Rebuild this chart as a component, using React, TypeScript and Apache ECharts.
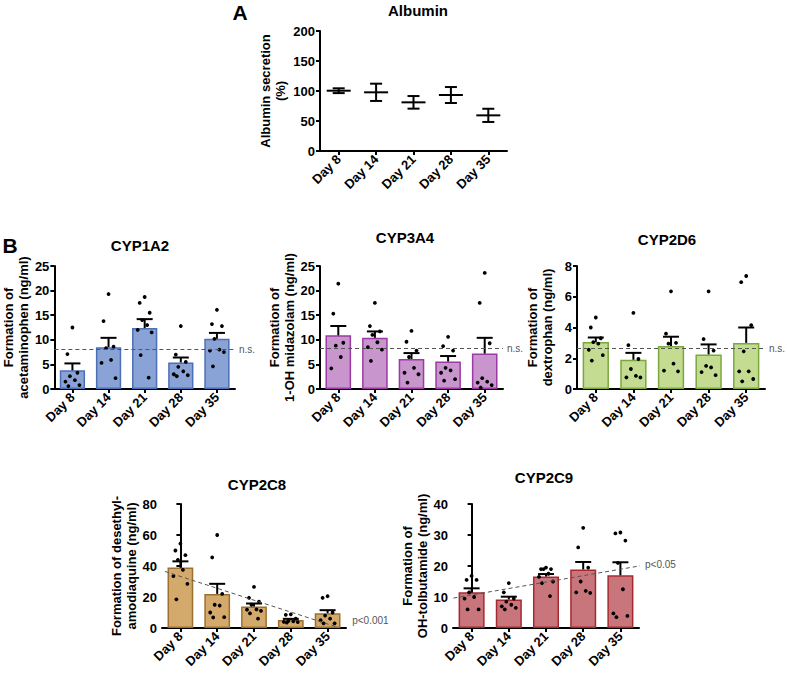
import React, { useEffect, useRef } from "react";
import * as echarts from "echarts";

const FONT = '"Liberation Sans", Arial, sans-serif';

const days = ["Day 8", "Day 14", "Day 21", "Day 28", "Day 35"];

// Panel A
const albuminMean = [100.5, 97.8, 81.1, 93.3, 59.4];
const albuminErr = [4, 14.4, 10.5, 13.3, 11];

// CYP1A2
const cyp1a2Mean = [3.8, 8.5, 12.4, 5.4, 10.2];
const cyp1a2Sem = [1.4, 1.9, 1.8, 1.0, 1.2];
const cyp1a2Pts = [
  [12.5, 7.1, 3.3, 2.6, 1.8, 1.5, 0.8, 0.6],
  [19.3, 13.8, 8.6, 8.3, 5.9, 5.3, 2.2],
  [18.7, 17.5, 15.5, 14.0, 13.0, 12.0, 11.5, 6.9, 2.3],
  [12.8, 7.0, 5.5, 4.5, 3.6, 3.0, 2.8, 2.6],
  [16.1, 13.2, 12.8, 10.2, 8.0, 7.8, 7.5, 4.6],
];
const cyp1a2Ref = 8.0;

// CYP3A4
const cyp3a4Mean = [10.9, 10.4, 6.1, 5.6, 7.2];
const cyp3a4Sem = [1.9, 1.3, 1.2, 1.1, 3.2];
const cyp3a4Pts = [
  [21.4, 15.3, 9.4, 8.8, 6.5, 4.2],
  [17.5, 12.8, 11.7, 11.0, 9.5, 8.5, 8.0, 5.7],
  [11.8, 9.6, 7.8, 6.5, 4.3, 3.3, 3.0, 1.3],
  [10.6, 8.7, 7.8, 4.3, 3.8, 3.3, 2.0, 1.7],
  [23.6, 17.5, 9.3, 2.2, 1.5, 1.3, 0.8, 0.3],
];
const cyp3a4Ref = 8.2;

// CYP2D6
const cyp2d6Mean = [3.05, 1.9, 2.8, 2.25, 3.0];
const cyp2d6Sem = [0.3, 0.45, 0.6, 0.65, 1.0];
const cyp2d6Pts = [
  [4.65, 4.0, 3.3, 3.05, 2.95, 2.55, 2.2, 1.85],
  [4.95, 2.85, 1.95, 1.3, 0.85, 0.75, 0.75],
  [6.35, 3.6, 3.0, 2.95, 1.65, 1.2, 1.15],
  [6.35, 3.25, 2.5, 1.5, 1.4, 1.1, 0.9],
  [7.35, 6.95, 4.15, 2.45, 1.15, 1.15, 0.65, 0.5],
];
const cyp2d6Ref = 2.65;

// CYP2C8
const cyp2c8Mean = [39, 22, 13.8, 5.2, 9.5];
const cyp2c8Sem = [4, 6.5, 2.0, 0.7, 2.0];
const cyp2c8Pts = [
  [54.5, 50, 47, 44, 37.5, 33.5, 28.5, 18.5],
  [60, 45.5, 22, 15, 14.5, 10, 7, 6.8],
  [26.5, 19.5, 17, 15, 12, 11.8, 11, 9.5, 6],
  [8.8, 8.5, 6, 4.5, 4.3, 4, 3.8, 3.5],
  [20.5, 19.5, 10, 8, 6, 5, 3, 3],
];
const cyp2c8Trend = [[-0.42, 36.5], [4.26, 0.6]];

// CYP2C9
const cyp2c9Mean = [11.5, 9.2, 16.6, 18.9, 17.0];
const cyp2c9Sem = [1.3, 0.9, 0.8, 2.4, 4.2];
const cyp2c9Pts = [
  [16.8, 15.5, 15.5, 11.5, 10, 9.5, 6, 6],
  [14.5, 11.5, 9.5, 8.5, 7.5, 7, 6.5, 6],
  [19.5, 19, 19, 19, 17.5, 16.5, 15, 14.5, 10.3],
  [32.3, 26, 19.5, 15, 12, 11.5, 11.3],
  [30.8, 30.5, 28.2, 21.0, 12.5, 4.7, 3.9, 3.5],
];
const cyp2c9Trend = [[-0.49, 9.65], [4.53, 20.05]];

const panels = [
  {
    title: "CYP1A2", yName: "Formation of\nacetaminophen (ng/ml)",
    mean: cyp1a2Mean, sem: cyp1a2Sem, pts: cyp1a2Pts, max: 25, interval: 5,
    fill: "#8aa3d6", border: "#4d6fb5", ref: cyp1a2Ref,
    grid: { left: 50, top: 266, width: 185, height: 123 }, tpos: [140, 245],
  },
  {
    title: "CYP3A4", yName: "Formation of\n1-OH midazolam (ng/ml)",
    mean: cyp3a4Mean, sem: cyp3a4Sem, pts: cyp3a4Pts, max: 25, interval: 5,
    fill: "#c895cc", border: "#9b3aa4", ref: cyp3a4Ref,
    grid: { left: 320, top: 266, width: 183, height: 123 }, tpos: [405, 237],
  },
  {
    title: "CYP2D6", yName: "Formation of\ndextrophan (ng/ml)",
    mean: cyp2d6Mean, sem: cyp2d6Sem, pts: cyp2d6Pts, max: 8, interval: 2,
    fill: "#c3dc92", border: "#7aa83c", ref: cyp2d6Ref,
    grid: { left: 577, top: 266, width: 188, height: 123 }, tpos: [667, 239],
  },
  {
    title: "CYP2C8", yName: "Formation of desethyl-\namodiaquine (ng/ml)",
    mean: cyp2c8Mean, sem: cyp2c8Sem, pts: cyp2c8Pts, max: 80, interval: 20,
    fill: "#d4aa6c", border: "#9c7030", trend: cyp2c8Trend, pLabel: "p<0.001", pOffset: [10, -7],
    grid: { left: 162, top: 504, width: 184, height: 124 }, tpos: [257, 484],
  },
  {
    title: "CYP2C9", yName: "Formation of\nOH-tolbutamide (ng/ml)",
    mean: cyp2c9Mean, sem: cyp2c9Sem, pts: cyp2c9Pts, max: 40, interval: 10,
    fill: "#c8767b", border: "#a52a30", trend: cyp2c9Trend, pLabel: "p<0.05", pOffset: [0, -1],
    grid: { left: 453, top: 504, width: 186, height: 124 }, tpos: [544, 477],
  },
];

const jit = [0, -5, 5, -2.5, 2.5, -7, 7, -4, 4];

function buildOption() {
  const grids: any[] = [{ left: 320, top: 31, width: 187, height: 120 }];
  const xAxes: any[] = [];
  const yAxes: any[] = [];
  const series: any[] = [];
  const graphics: any[] = [];

  const catAxis = (gridIndex: number) => ({
    type: "category", gridIndex, data: days,
    axisLine: { show: true, lineStyle: { color: "#000", width: 2 } },
    axisTick: { show: true, alignWithLabel: true, length: 4, lineStyle: { color: "#000", width: 2 } },
    axisLabel: { rotate: 45, color: "#000", fontWeight: "bold", fontSize: 13, fontFamily: FONT, margin: 6 },
  });
  const valAxis = (gridIndex: number, max: number, interval: number, name: string, gap: number) => ({
    type: "value", gridIndex, min: 0, max, interval,
    name, nameLocation: "middle", nameRotate: 90, nameGap: gap,
    nameTextStyle: { color: "#000", fontWeight: "bold", fontSize: 13, fontFamily: FONT, lineHeight: 15 },
    axisLine: { show: true, lineStyle: { color: "#000", width: 2 } },
    axisTick: { show: true, length: 4, lineStyle: { color: "#000", width: 2 } },
    axisLabel: { color: "#000", fontWeight: "bold", fontSize: 13, fontFamily: FONT, margin: 5 },
    splitLine: { show: false },
  });

  // Panel A
  xAxes.push(catAxis(0));
  yAxes.push(valAxis(0, 200, 50, "Albumin secretion\n(%)", 32));
  series.push({
    type: "custom", xAxisIndex: 0, yAxisIndex: 0,
    data: albuminMean.map((m, i) => [i, m, albuminErr[i]]),
    renderItem: (params: any, api: any) => {
      const i = api.value(0), m = api.value(1), e = api.value(2);
      const pm = api.coord([i, m]);
      const ph = api.coord([i, m + e]);
      const pl = api.coord([i, m - e]);
      const st = { stroke: "#000", lineWidth: 2 };
      return {
        type: "group",
        children: [
          { type: "line", shape: { x1: pm[0], y1: ph[1], x2: pm[0], y2: pl[1] }, style: st },
          { type: "line", shape: { x1: pm[0] - 6, y1: ph[1], x2: pm[0] + 6, y2: ph[1] }, style: st },
          { type: "line", shape: { x1: pm[0] - 6, y1: pl[1], x2: pm[0] + 6, y2: pl[1] }, style: st },
          { type: "line", shape: { x1: pm[0] - 12, y1: pm[1], x2: pm[0] + 12, y2: pm[1] }, style: st },
        ],
      };
    },
  });
  graphics.push({ type: "text", x: 418, y: 10, style: { text: "Albumin", font: `bold 15px ${FONT}`, fill: "#000", align: "center", verticalAlign: "middle", textAlign: "center", textVerticalAlign: "middle" } });
  graphics.push({ type: "text", x: 240, y: 12, style: { text: "A", font: `bold 21px ${FONT}`, fill: "#000", align: "center", verticalAlign: "middle", textAlign: "center", textVerticalAlign: "middle" } });
  graphics.push({ type: "text", x: 10, y: 245, style: { text: "B", font: `bold 21px ${FONT}`, fill: "#000", align: "center", verticalAlign: "middle", textAlign: "center", textVerticalAlign: "middle" } });

  panels.forEach((p: any, k: number) => {
    const gi = k + 1;
    grids.push(p.grid);
    const xi = xAxes.length;
    xAxes.push(catAxis(gi));
    const yi = yAxes.length;
    yAxes.push(valAxis(gi, p.max, p.interval, p.yName, 22));
    graphics.push({ type: "text", x: p.tpos[0], y: p.tpos[1], style: { text: p.title, font: `bold 15px ${FONT}`, fill: "#000", align: "center", verticalAlign: "middle", textAlign: "center", textVerticalAlign: "middle" } });

    const bar: any = {
      type: "bar", xAxisIndex: xi, yAxisIndex: yi, data: p.mean, barWidth: "70%", z: 2,
      itemStyle: { color: p.fill, borderColor: p.border, borderWidth: 1.5 },
    };
    if (p.ref !== undefined) {
      bar.markLine = {
        silent: true, symbol: ["none", "none"], animation: false,
        data: [{ yAxis: p.ref }],
        lineStyle: { type: [4, 3], color: "#555", width: 1 },
        label: { show: true, position: "end", formatter: "n.s.", color: "#555", fontSize: 10, fontFamily: FONT, distance: 4 },
      };
    }
    series.push(bar);
    series.push({
      type: "custom", xAxisIndex: xi, yAxisIndex: yi, z: 3,
      data: p.mean.map((m: number, i: number) => [i, m, p.sem[i]]),
      renderItem: (params: any, api: any) => {
        const i = api.value(0), m = api.value(1), s = api.value(2);
        const p0 = api.coord([i, m]);
        const p1 = api.coord([i, m + s]);
        const st = { stroke: "#000", lineWidth: 2 };
        return {
          type: "group",
          children: [
            { type: "line", shape: { x1: p0[0], y1: p0[1], x2: p1[0], y2: p1[1] }, style: st },
            { type: "line", shape: { x1: p1[0] - 8, y1: p1[1], x2: p1[0] + 8, y2: p1[1] }, style: st },
          ],
        };
      },
    });
    const dots: any[] = [];
    p.pts.forEach((arr: number[], i: number) => arr.forEach((v, j) => dots.push([i, v, j])));
    series.push({
      type: "custom", xAxisIndex: xi, yAxisIndex: yi, z: 4, data: dots,
      renderItem: (params: any, api: any) => {
        const c = api.coord([api.value(0), api.value(1)]);
        const off = jit[api.value(2) % jit.length];
        return { type: "circle", shape: { cx: c[0] + off, cy: c[1], r: 1.9 }, style: { fill: "#000" } };
      },
    });
    if (p.trend) {
      const vxi = xAxes.length;
      xAxes.push({ type: "value", gridIndex: gi, min: -0.5, max: 4.5, show: false });
      series.push({
        type: "line", xAxisIndex: vxi, yAxisIndex: yi, data: p.trend, symbol: "none", clip: false, z: 5,
        lineStyle: { type: [4, 3], color: "#555", width: 1 },
        endLabel: { show: true, formatter: p.pLabel, color: "#555", fontSize: 10, fontFamily: FONT, offset: p.pOffset, distance: 5 },
      });
    }
  });

  return {
    animation: false,
    backgroundColor: "#fff",
    grid: grids,
    xAxis: xAxes,
    yAxis: yAxes,
    series,
    graphic: graphics,
  };
}

export default function App() {
  const ref = useRef<HTMLDivElement>(null);
  useEffect(() => {
    const chart = echarts.init(ref.current!, null, { renderer: "svg" });
    chart.setOption(buildOption() as any);
    return () => chart.dispose();
  }, []);
  return <div ref={ref} style={{ position: "absolute", left: 0, top: 0, width: 787, height: 673 }} />;
}
